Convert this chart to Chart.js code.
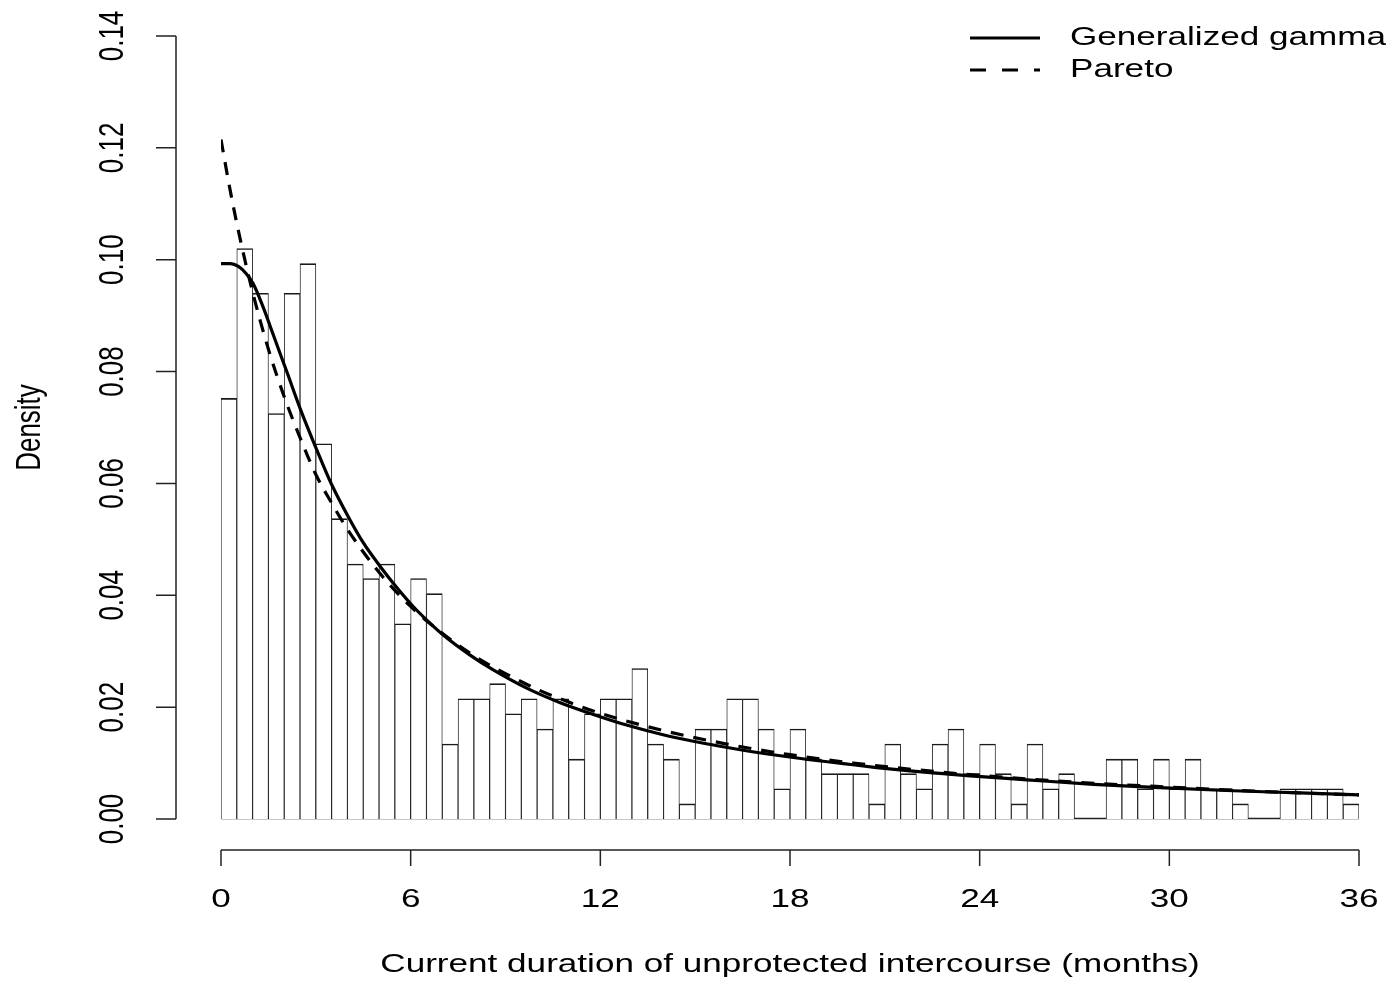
<!DOCTYPE html>
<html>
<head>
<meta charset="utf-8">
<script src="https://cdn.jsdelivr.net/npm/chart.js@4.4.1/dist/chart.umd.min.js"></script>
<style>
  html, body { margin: 0; padding: 0; background: #fff; }
  #wrap { width: 1392px; height: 983px; }
</style>
</head>
<body>
<div id="wrap"><canvas id="densityChart" width="1392" height="983"></canvas></div>
<script>
// histogram: density per half-month bin, 0 to 36 months
const BIN_WIDTH = 0.5;
const density = [
  0.0752, 0.1020, 0.0940, 0.0725, 0.0940, 0.0993, 0.0671, 0.0537, 0.0456, 0.0430,
  0.0456, 0.0349, 0.0430, 0.0403, 0.0134, 0.0215, 0.0215, 0.0242, 0.0188, 0.0215,
  0.0161, 0.0215, 0.0107, 0.0188, 0.0215, 0.0215, 0.0269, 0.0134, 0.0107, 0.0027,
  0.0161, 0.0161, 0.0215, 0.0215, 0.0161, 0.0054, 0.0161, 0.0107, 0.0081, 0.0081,
  0.0081, 0.0027, 0.0134, 0.0081, 0.0054, 0.0134, 0.0161, 0.0081, 0.0134, 0.0081,
  0.0027, 0.0134, 0.0054, 0.0081, 0.0000, 0.0000, 0.0107, 0.0107, 0.0054, 0.0107,
  0.0054, 0.0107, 0.0054, 0.0054, 0.0027, 0.0000, 0.0000, 0.0054, 0.0054, 0.0054,
  0.0054, 0.0027
];

// fitted curves
const ggammaX = [0, 0.3, 0.55, 0.8, 1.02, 1.3, 1.55, 1.8, 2.08, 2.55, 3.03, 3.5, 4.03, 4.5, 5.03,
  5.56, 6.08, 6.56, 7.03, 7.88, 8.6, 9.67, 10.73, 11.78, 12.83, 13.89, 14.94, 15.79, 16.52,
  17.58, 18.63, 19.69, 20.74, 21.8, 22.85, 23.7, 25.5, 27.6, 29.7, 31.8, 33.9, 36];
const ggammaY = [0.0993, 0.0993, 0.0988, 0.0975, 0.0957, 0.0920, 0.0882, 0.0843, 0.0800, 0.0727,
  0.0660, 0.0598, 0.0540, 0.0494, 0.0452, 0.0414, 0.0380, 0.0353, 0.0329, 0.0293, 0.0267,
  0.0234, 0.0208, 0.0187, 0.0168, 0.0152, 0.0139, 0.0130, 0.0123, 0.0114, 0.0106, 0.0099,
  0.0092, 0.0086, 0.0081, 0.0077, 0.0070, 0.0062, 0.0056, 0.0051, 0.0047, 0.0043];

const paretoX = [0, 0.25, 0.5, 0.75, 1, 1.5, 2, 2.5, 3, 3.5, 4, 5, 6, 7, 8, 9, 10, 11, 12,
  14, 16, 18, 20, 22, 24, 27, 30, 33, 36];
const paretoY = [0.1215, 0.1136, 0.1065, 0.1001, 0.0942, 0.0840, 0.0755, 0.0682, 0.0616, 0.0565,
  0.0518, 0.0441, 0.0380, 0.0332, 0.0292, 0.0260, 0.0232, 0.0209, 0.0189, 0.0158, 0.0134,
  0.0115, 0.0100, 0.0088, 0.0078, 0.0066, 0.0057, 0.0049, 0.0043];

const xTicks = [0, 6, 12, 18, 24, 30, 36];
const yTicks = [0, 0.02, 0.04, 0.06, 0.08, 0.10, 0.12, 0.14];
const seriesNames = ['Generalized gamma', 'Pareto'];

const FONT = '26px "Liberation Sans", Arial, sans-serif';
const STRETCH = 1.35; // the original plot is widened horizontally

function stretchedText(ctx, text, x, y, align, rotate) {
  ctx.save();
  ctx.translate(x, y);
  ctx.scale(STRETCH, 1);
  if (rotate) ctx.rotate(-Math.PI / 2);
  ctx.textAlign = align;
  ctx.textBaseline = 'middle';
  ctx.fillText(text, 0, 0);
  ctx.restore();
}

const rAxes = {
  id: 'rAxes',
  beforeDatasetsDraw(chart) {
    const { ctx, chartArea, scales } = chart;
    const y0 = Math.round(scales.y.getPixelForValue(0)) - 0.5;
    ctx.save();
    ctx.strokeStyle = '#222';
    ctx.lineWidth = 1.5;
    ctx.beginPath();
    ctx.moveTo(chartArea.left, y0);
    ctx.lineTo(chartArea.right, y0);
    ctx.stroke();
    ctx.restore();
  },
  afterDraw(chart) {
    const { ctx, chartArea, scales } = chart;
    const xs = scales.x, ys = scales.y;
    ctx.save();
    ctx.strokeStyle = '#222';
    ctx.fillStyle = '#000';
    ctx.lineWidth = 1.5;
    ctx.font = FONT;

    // y axis, set apart from the plot
    const ax = chartArea.left - 45;
    ctx.beginPath();
    ctx.moveTo(ax, ys.getPixelForValue(yTicks[0]));
    ctx.lineTo(ax, ys.getPixelForValue(yTicks[yTicks.length - 1]));
    yTicks.forEach(v => {
      const py = ys.getPixelForValue(v);
      ctx.moveTo(ax, py);
      ctx.lineTo(ax - 20, py);
    });
    ctx.stroke();
    yTicks.forEach(v => {
      stretchedText(ctx, v.toFixed(2), ax - 63, ys.getPixelForValue(v), 'center', true);
    });
    stretchedText(ctx, 'Density', 30, (chartArea.top + chartArea.bottom) / 2, 'center', true);

    // x axis below the histogram
    const ay = chartArea.bottom + 31;
    ctx.beginPath();
    ctx.moveTo(xs.getPixelForValue(xTicks[0]), ay);
    ctx.lineTo(xs.getPixelForValue(xTicks[xTicks.length - 1]), ay);
    xTicks.forEach(v => {
      const px = xs.getPixelForValue(v);
      ctx.moveTo(px, ay);
      ctx.lineTo(px, ay + 16);
    });
    ctx.stroke();
    xTicks.forEach(v => {
      stretchedText(ctx, String(v), xs.getPixelForValue(v), ay + 50, 'center', false);
    });
    stretchedText(ctx, 'Current duration of unprotected intercourse (months)',
      (chartArea.left + chartArea.right) / 2, chartArea.bottom + 146, 'center', false);

    // legend, top right
    const lx = chartArea.right - 389;
    const rows = [chartArea.top + 2, chartArea.top + 34];
    ctx.strokeStyle = '#000';
    ctx.lineWidth = 3.2;
    rows.forEach((ry, i) => {
      ctx.setLineDash(i === 0 ? [] : [16, 16]);
      ctx.beginPath();
      ctx.moveTo(lx, ry);
      ctx.lineTo(lx + 70, ry);
      ctx.stroke();
      ctx.setLineDash([]);
      stretchedText(ctx, seriesNames[i], lx + 100, ry, 'left', false);
    });
    ctx.restore();
  }
};

new Chart(document.getElementById('densityChart'), {
  type: 'bar',
  data: {
    datasets: [
      {
        type: 'line',
        label: seriesNames[0],
        data: ggammaX.map((x, i) => ({ x: x, y: ggammaY[i] })),
        borderColor: '#000',
        borderWidth: 3.2,
        pointRadius: 0,
        cubicInterpolationMode: 'monotone',
        fill: false,
        order: 0
      },
      {
        type: 'line',
        label: seriesNames[1],
        data: paretoX.map((x, i) => ({ x: x, y: paretoY[i] })),
        borderColor: '#000',
        borderWidth: 3.2,
        borderDash: [13, 10],
        pointRadius: 0,
        cubicInterpolationMode: 'monotone',
        fill: false,
        order: 1
      },
      {
        label: 'Histogram',
        // each bar sits at the middle of its half-month bin
        data: density.map((d, i) => ({ x: i * BIN_WIDTH + BIN_WIDTH / 2, y: d })),
        backgroundColor: '#fff',
        borderColor: '#1a1a1a',
        borderWidth: { top: 1.6, left: 0.9, right: 0.9, bottom: 0 },
        barPercentage: 1,
        categoryPercentage: 1,
        order: 2
      }
    ]
  },
  options: {
    responsive: false,
    animation: false,
    layout: { padding: { left: 221, right: 33, top: 36, bottom: 164 } },
    scales: {
      x: { type: 'linear', min: 0, max: 36, offset: false, display: false },
      y: { type: 'linear', min: 0, max: 0.14, display: false }
    },
    plugins: {
      legend: { display: false },
      tooltip: { enabled: false }
    }
  },
  plugins: [rAxes]
});
</script>
</body>
</html>
